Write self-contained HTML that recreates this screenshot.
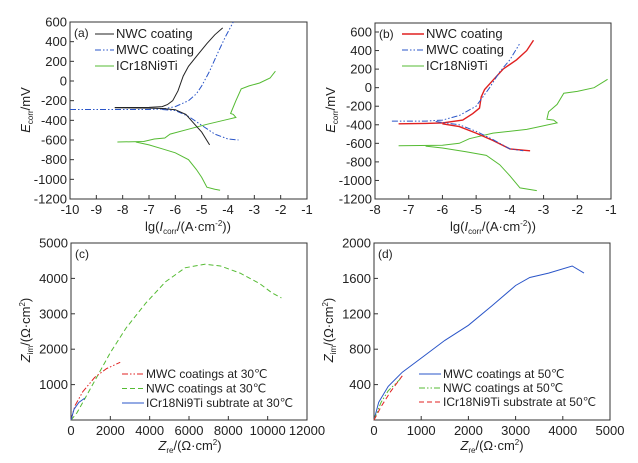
<!DOCTYPE html>
<html><head><meta charset="utf-8"><style>
body{margin:0;background:#fff}
svg{display:block;font-family:"Liberation Sans",sans-serif}
</style></head><body>
<svg id="fig" width="638" height="463" viewBox="0 0 638 463" xmlns="http://www.w3.org/2000/svg"></svg>
<script>
// ---- Panel (a) data ----
const aXTicks=[-10,-9,-8,-7,-6,-5,-4,-3,-2,-1];
const aYTicks=[600,400,200,0,-200,-400,-600,-800,-1000,-1200];
const aNWCan=[[-8.3,-270],[-7,-268],[-6.5,-260],[-6.3,-240],[-6.1,-200],[-5.9,-100],[-5.7,50],[-5.5,150],[-5.2,250],[-4.8,380],[-4.5,470],[-4.2,540]];
const aNWCca=[[-8.3,-272],[-7,-276],[-6.5,-280],[-6,-292],[-5.6,-340],[-5.3,-430],[-5,-520],[-4.7,-650]];
const aMWCan=[[-10,-290],[-7,-290],[-6.5,-285],[-6,-260],[-5.5,-200],[-5.2,-130],[-5,-50],[-4.7,100],[-4.4,280],[-4.1,450],[-3.8,600]];
const aMWCca=[[-6.5,-290],[-6,-300],[-5.5,-360],[-5,-450],[-4.5,-540],[-4,-590],[-3.6,-600]];
const aSSan=[[-8.2,-620],[-7.2,-615],[-6.8,-590],[-6.4,-580],[-6.2,-540],[-5.5,-490],[-4.8,-440],[-4,-390],[-3.7,-370],[-3.8,-340],[-3.9,-330],[-3.7,-200],[-3.5,-80],[-3.2,-50],[-2.8,-20],[-2.4,30],[-2.2,100]];
const aSSca=[[-7.5,-620],[-7,-650],[-6.5,-690],[-6,-730],[-5.5,-800],[-5.2,-900],[-5,-980],[-4.8,-1080],[-4.5,-1100],[-4.3,-1110]];
// ---- Panel (b) data ----
const bXTicks=[-8,-7,-6,-5,-4,-3,-2,-1];
const bYTicks=[600,400,200,0,-200,-400,-600,-800,-1000,-1200];
const bNWCan=[[-7.3,-390],[-6.5,-385],[-6,-380],[-5.4,-350],[-5.1,-280],[-4.9,-220],[-4.85,-100],[-4.75,-20],[-4.5,80],[-4.2,200],[-3.8,300],[-3.5,400],[-3.3,510]];
const bNWCca=[[-6,-390],[-5.5,-420],[-5,-490],[-4.5,-570],[-4,-660],[-3.4,-680]];
const bMWCan=[[-7.5,-360],[-6.5,-360],[-6,-350],[-5.5,-300],[-5,-200],[-4.8,-100],[-4.6,0],[-4.3,170],[-4,300],[-3.7,480]];
const bMWCca=[[-6.2,-365],[-5.5,-400],[-5,-470],[-4.5,-560],[-4,-660],[-3.6,-680]];
const bSSan=[[-7.3,-625],[-6,-620],[-5.5,-600],[-5.2,-550],[-4.5,-490],[-3.5,-450],[-2.6,-380],[-2.7,-350],[-2.9,-340],[-2.85,-260],[-2.6,-180],[-2.4,-60],[-2,-40],[-1.5,0],[-1.1,90]];
const bSSca=[[-6.5,-630],[-6,-650],[-5.3,-690],[-4.7,-730],[-4.3,-830],[-4,-950],[-3.7,-1080],[-3.2,-1110]];
// ---- Panel (c) data ----
const cXTicks=[0,2000,4000,6000,8000,10000,12000];
const cYTicks=[1000,2000,3000,4000,5000];
const cNWC=[[0,0],[300,200],[700,600],[1200,1100],[2000,1900],[2800,2600],[3800,3300],[4800,3900],[5800,4300],[6800,4400],[7600,4350],[8600,4150],[9600,3850],[10200,3600],[10700,3450]];
const cMWC=[[0,0],[200,400],[600,800],[1200,1200],[1800,1450],[2500,1630]];
const cSS=[[0,0],[150,300],[400,500],[700,620]];
// ---- Panel (d) data ----
const dXTicks=[0,1000,2000,3000,4000,5000];
const dYTicks=[400,800,1200,1600,2000];
const dMWC=[[0,0],[100,200],[300,380],[600,540],[1000,700],[1500,900],[2000,1070],[2500,1290],[3000,1520],[3300,1610],[3700,1660],[4200,1740],[4450,1660]];
const dNWC=[[0,0],[150,200],[300,330],[550,460]];
const dSS=[[0,0],[150,150],[350,320],[600,500]];

const NS="http://www.w3.org/2000/svg";
const svg=document.getElementById('fig');
function el(tag,attrs,parent){const e=document.createElementNS(NS,tag);for(const k in attrs)e.setAttribute(k,attrs[k]);(parent||svg).appendChild(e);return e;}
function txt(s,x,y,attrs,name){const t=el('text',Object.assign({x:x,y:y,'font-size':13,fill:'#222'},attrs||{}));t.textContent=s;


return t;}

function panel(p){
  const g=el('g',{});
  
  
  const sx=v=>p.L+(v-p.x0)/(p.x1-p.x0)*(p.R-p.L);
  const sy=v=>p.B-(v-p.y0)/(p.y1-p.y0)*(p.B-p.T);
  const fr=el('rect',{x:p.L,y:p.T,width:p.R-p.L,height:p.B-p.T,fill:'none',stroke:'#333','stroke-width':1},g);
  
  
  p.xt.forEach(v=>{const x=sx(v);
    const tk=el('line',{x1:x,x2:x,y1:p.B,y2:p.B-4,stroke:'#333'},g);
    
    
    g.appendChild(txt(String(v),x,p.B+15,{'text-anchor':'middle'},'x-tick-label'));});
  p.yt.forEach(v=>{const y=sy(v);
    const tk=el('line',{x1:p.L,x2:p.L+4,y1:y,y2:y,stroke:'#333'},g);
    
    
    g.appendChild(txt(String(v),p.L-3,y+4.5,{'text-anchor':'end'},'y-tick-label'));});
  p.series.forEach(s=>{
    const d=s.pts.map((q,i)=>(i?'L':'M')+sx(q[0]).toFixed(1)+','+sy(q[1]).toFixed(1)).join('');
    const a={d:d,fill:'none',stroke:s.c,'stroke-width':s.w||1};
    if(s.dash)a['stroke-dasharray']=s.dash;
    const ln=el('path',a,g);
    
    
  });
  g.appendChild(txt(p.id==='a'?'(a)':p.id==='b'?'(b)':p.id==='c'?'(c)':'(d)',p.L+4,p.T+15,{'font-size':12},'panel-label'));
  p.legend.forEach((l,i)=>{const y=p.ly+i*p.lsp;
    const a={x1:p.lx,x2:p.lx+p.llen,y1:y-4,y2:y-4,stroke:l.c,'stroke-width':l.w||1};
    if(l.dash)a['stroke-dasharray']=l.dash;
    const ln=el('line',a,g);
    
    
    g.appendChild(txt(l.t,p.lx+p.llen+2,y,{'font-size':p.lfs},'legend-entry'));});
  return g;
}
const K='#222',B='#2a55c8',G='#55bb33',R='#e02020';
const DD='6,2,1.5,2,1.5,2';
panel({id:'a',L:70,R:307,T:22,B:199,x0:-10,x1:-1,y0:-1200,y1:600,xt:aXTicks,yt:aYTicks,
 series:[{pts:aSSan,c:G,name:'ss-anodic'},{pts:aSSca,c:G,name:'ss-cathodic'},
 {pts:aMWCan,c:B,dash:DD,name:'mwc-anodic'},{pts:aMWCca,c:B,dash:DD,name:'mwc-cathodic'},
 {pts:aNWCan,c:K,name:'nwc-anodic'},{pts:aNWCca,c:K,name:'nwc-cathodic'}],
 legend:[{t:'NWC coating',c:K},{t:'MWC coating',c:B,dash:DD},{t:'ICr18Ni9Ti',c:G}],lx:95,ly:38,lsp:16,llen:19,lfs:13});
panel({id:'b',L:375,R:611,T:23,B:199,x0:-8,x1:-1,y0:-1200,y1:697,xt:bXTicks,yt:bYTicks,
 series:[{pts:bSSan,c:G,name:'ss-anodic'},{pts:bSSca,c:G,name:'ss-cathodic'},
 {pts:bNWCan,c:R,w:1.4,name:'nwc-anodic'},{pts:bNWCca,c:R,w:1.4,name:'nwc-cathodic'},
 {pts:bMWCan,c:B,dash:DD,name:'mwc-anodic'},{pts:bMWCca,c:B,dash:DD,name:'mwc-cathodic'}],
 legend:[{t:'NWC coating',c:R,w:1.4},{t:'MWC coating',c:B,dash:DD},{t:'ICr18Ni9Ti',c:G}],lx:402,ly:38,lsp:16,llen:22,lfs:13});
panel({id:'c',L:71,R:307,T:243,B:420,x0:0,x1:12000,y0:0,y1:5000,xt:cXTicks,yt:cYTicks,
 series:[{pts:cNWC,c:G,dash:'5,3',name:'nwc-30c'},{pts:cMWC,c:R,dash:DD,name:'mwc-30c'},{pts:cSS,c:B,name:'ss-30c'}],
 legend:[{t:'MWC coatings at 30℃',c:R,dash:DD},{t:'NWC coatings at 30℃',c:G,dash:'5,3'},{t:'ICr18Ni9Ti subtrate at 30℃',c:B}],lx:122,ly:378,lsp:14.5,llen:22,lfs:12});
panel({id:'d',L:374,R:610,T:243,B:420,x0:0,x1:5000,y0:0,y1:2000,xt:dXTicks,yt:dYTicks,
 series:[{pts:dMWC,c:B,name:'mwc-50c'},{pts:dNWC,c:G,dash:DD,name:'nwc-50c'},{pts:dSS,c:R,dash:'5,3',name:'ss-50c'}],
 legend:[{t:'MWC coatings at 50℃',c:B},{t:'NWC coatings at 50℃',c:G,dash:DD},{t:'ICr18Ni9Ti substrate at 50℃',c:R,dash:'5,3'}],lx:419,ly:378,lsp:14,llen:22,lfs:12});

// axis titles
function ytitle(x,y,html,name){const t=el('text',{x:0,y:0,'font-size':13,fill:'#222','text-anchor':'middle',transform:`translate(${x},${y}) rotate(-90)`});t.innerHTML=html;

}
function xtitle(x,y,html,name){const t=el('text',{x:x,y:y,'font-size':13,fill:'#222','text-anchor':'middle'});t.innerHTML=html;

}
const Ey='<tspan font-style="italic">E</tspan><tspan font-size="8" dy="3">corr</tspan><tspan dy="-3">/mV</tspan>';
const Ix='lg(<tspan font-style="italic">I</tspan><tspan font-size="8" dy="3">corr</tspan><tspan dy="-3">/(A·cm</tspan><tspan font-size="8" dy="-5">-2</tspan><tspan dy="5">))</tspan>';
const Zim='<tspan font-style="italic">Z</tspan><tspan font-size="8" dy="3">im</tspan><tspan dy="-3">/(Ω·cm</tspan><tspan font-size="8" dy="-5">2</tspan><tspan dy="5">)</tspan>';
const Zre='<tspan font-style="italic">Z</tspan><tspan font-size="8" dy="3">re</tspan><tspan dy="-3">/(Ω·cm</tspan><tspan font-size="8" dy="-5">2</tspan><tspan dy="5">)</tspan>';
ytitle(30,110,Ey,'y-axis-title-a');xtitle(188,231,Ix,'x-axis-title-a');
ytitle(335,110,Ey,'y-axis-title-b');xtitle(493,231,Ix,'x-axis-title-b');
ytitle(30,330,Zim,'y-axis-title-c');xtitle(190,450,Zre,'x-axis-title-c');
ytitle(333,330,Zim,'y-axis-title-d');xtitle(492,450,Zre,'x-axis-title-d');
</script>
</body></html>
